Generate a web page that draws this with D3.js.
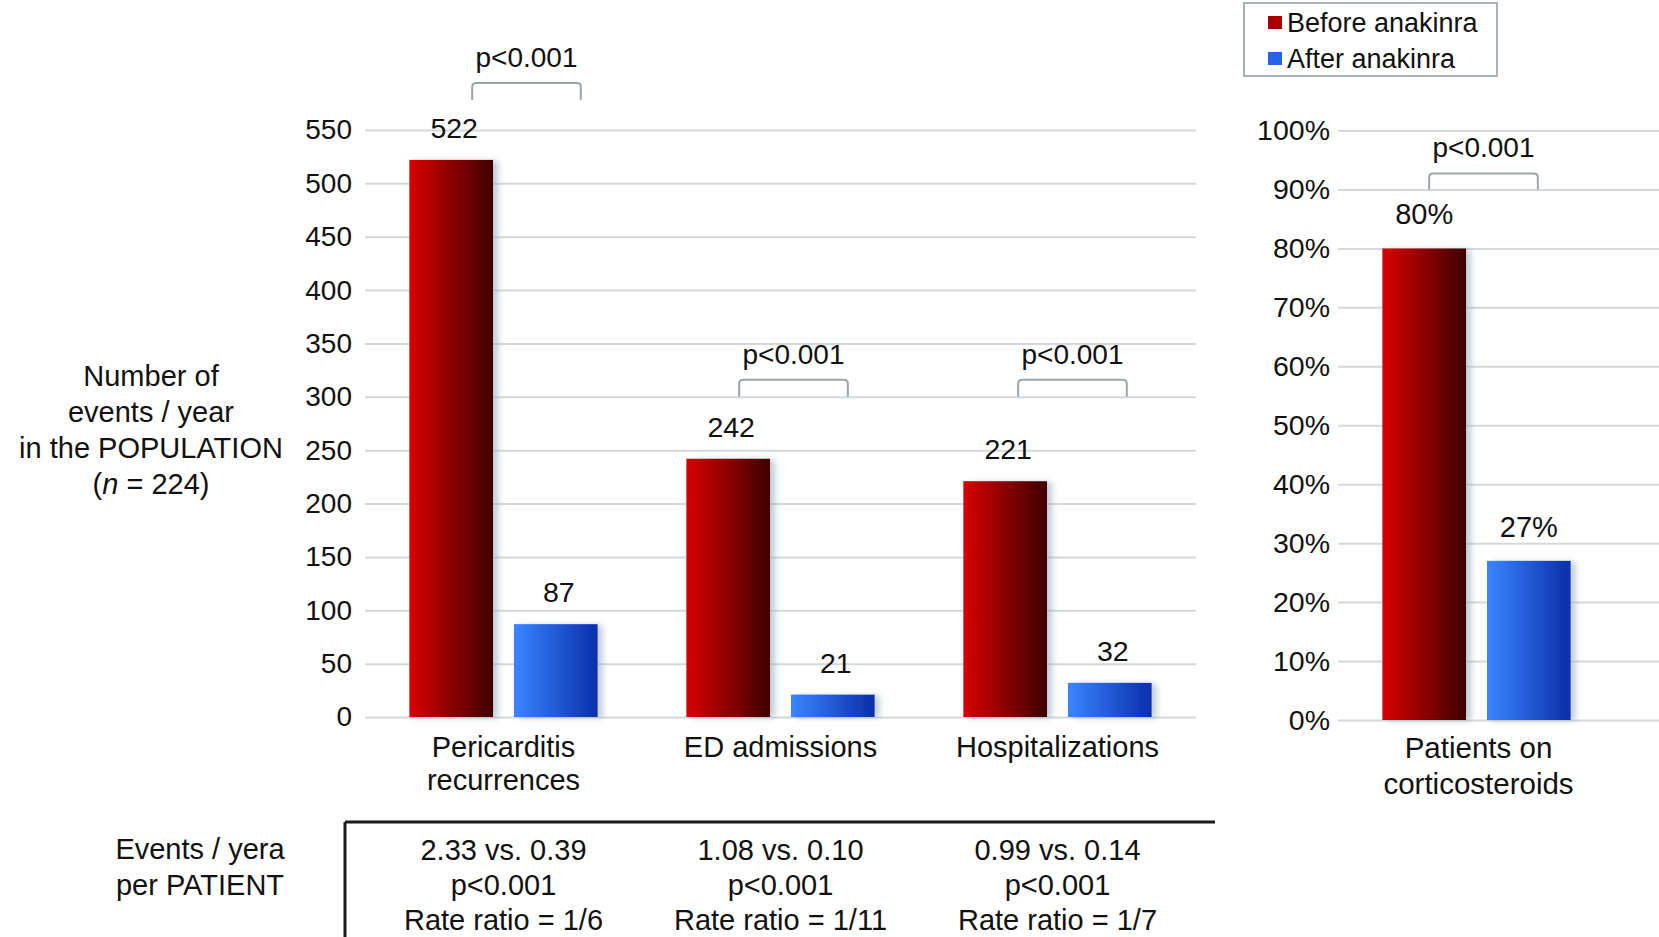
<!DOCTYPE html>
<html>
<head>
<meta charset="utf-8">
<script src="https://cdn.jsdelivr.net/npm/d3@7"></script>
<style>
  html, body { margin: 0; padding: 0; background: #fff; }
  svg { display: block; font-family: "Liberation Sans", Arial, Helvetica, sans-serif; }
</style>
</head>
<body>
<svg id="chart" width="1659" height="937"></svg>
<script>
// ---------- data ----------
const categories = ["Pericarditis recurrences", "ED admissions", "Hospitalizations"];
const categoryLines = [["Pericarditis", "recurrences"], ["ED admissions"], ["Hospitalizations"]];
const seriesNames = ["Before anakinra", "After anakinra"];
const beforeValues = [522, 242, 221];
const afterValues = [87, 21, 32];
const leftTicks = [0, 50, 100, 150, 200, 250, 300, 350, 400, 450, 500, 550];
const pLabels = ["p<0.001", "p<0.001", "p<0.001"];
const bracketLevels = [578, 300, 300];

const rightCategory = ["Patients on corticosteroids"];
const rightCategoryLines = ["Patients on", "corticosteroids"];
const rightBefore = [0.80];
const rightAfter = [0.27];
const rightTicks = [0, 0.1, 0.2, 0.3, 0.4, 0.5, 0.6, 0.7, 0.8, 0.9, 1.0];
const rightP = "p<0.001";
const rightBracketLevel = 0.9;

const tableRowLabel = ["Events / yera", "per PATIENT"];
const tableRates = ["2.33 vs. 0.39", "1.08 vs. 0.10", "0.99 vs. 0.14"];
const tableP = ["p<0.001", "p<0.001", "p<0.001"];
const tableRatio = ["Rate ratio = 1/6", "Rate ratio = 1/11", "Rate ratio = 1/7"];

// ---------- layout ----------
const svg = d3.select("#chart");
const W = 1659;
const bracketShift = [23, 13, 15];
const rightBracketShift = 7;
const FONT = "Liberation Sans, Arial, sans-serif";

const defs = svg.append("defs");
function grad(id, c0, c1) {
  const g = defs.append("linearGradient").attr("id", id).attr("x1", "0%").attr("x2", "100%").attr("y1", "0").attr("y2", "0");
  g.append("stop").attr("offset", "0%").attr("stop-color", c0);
  g.append("stop").attr("offset", "100%").attr("stop-color", c1);
}
grad("gRed", "#d80404", "#3e0000");
grad("gBlue", "#3a86ff", "#0a2eaa");
const f = defs.append("filter").attr("id", "shadow").attr("x", "-20%").attr("y", "-10%").attr("width", "150%").attr("height", "130%");
f.append("feDropShadow").attr("dx", 5).attr("dy", 1).attr("stdDeviation", 3)
  .attr("flood-color", "#8ea4b6").attr("flood-opacity", 0.55);

const fills = { "Before anakinra": "url(#gRed)", "After anakinra": "url(#gBlue)" };

function bracket(g, xl, xr, yTop, yBot, label) {
  const r = 4;
  g.append("path")
    .attr("d", `M${xl},${yBot} L${xl},${yTop + r} Q${xl},${yTop} ${xl + r},${yTop} L${xr - r},${yTop} Q${xr},${yTop} ${xr},${yTop + r} L${xr},${yBot}`)
    .attr("fill", "none").attr("stroke", "#9ba5ab").attr("stroke-width", 2);
  g.append("text").attr("x", (xl + xr) / 2).attr("y", yTop - 16)
    .attr("text-anchor", "middle").attr("font-size", 28).attr("fill", "#111").text(label);
}

// ---------- left chart ----------
const yL = d3.scaleLinear().domain([0, 550]).range([717, 130]);
const xL = d3.scaleBand().domain(categories).range([365, 1196]).paddingInner(0.32).paddingOuter(0.16);
const xInner = d3.scaleBand().domain(seriesNames).range([0, xL.bandwidth()]).paddingInner(0.2).paddingOuter(0);

const gAxisL = svg.append("g").attr("transform", "translate(365,0)")
  .call(d3.axisLeft(yL).tickValues(leftTicks).tickSizeInner(-(1196 - 365)).tickSizeOuter(0).tickPadding(13));
gAxisL.select(".domain").remove();
gAxisL.selectAll(".tick line").attr("stroke", "#d3d8db").attr("stroke-width", 2);
gAxisL.selectAll(".tick text").attr("font-size", 28).attr("fill", "#111").attr("font-family", FONT);

const leftData = categories.map((c, i) => ({ cat: c, vals: [
  { s: seriesNames[0], v: beforeValues[i] }, { s: seriesNames[1], v: afterValues[i] }] }));

const groups = svg.selectAll("g.grp").data(leftData).join("g").attr("class", "grp")
  .attr("transform", d => `translate(${xL(d.cat)},0)`);
groups.selectAll("rect").data(d => d.vals).join("rect")
  .attr("x", d => xInner(d.s)).attr("width", xInner.bandwidth())
  .attr("y", d => yL(d.v)).attr("height", d => yL(0) - yL(d.v))
  .attr("fill", d => fills[d.s]).attr("filter", "url(#shadow)");
groups.selectAll("text.val").data(d => d.vals).join("text").attr("class", "val")
  .attr("x", d => xInner(d.s) + xInner.bandwidth() / 2 + 3).attr("y", d => yL(d.v) - 22)
  .attr("text-anchor", "middle").attr("font-size", 28.5).attr("fill", "#111").text(d => d.v);

// category labels
categories.forEach((c, i) => {
  const cx = xL(c) + xL.bandwidth() / 2;
  const t = svg.append("text").attr("x", cx).attr("y", 757)
    .attr("text-anchor", "middle").attr("font-size", 29).attr("fill", "#111");
  categoryLines[i].forEach((ln, j) => t.append("tspan").attr("x", cx).attr("dy", j === 0 ? 0 : 33).text(ln));
});

// brackets
categories.forEach((c, i) => {
  const cx = xL(c) + xL.bandwidth() / 2 + bracketShift[i];
  const half = xInner.step() / 2 + 2;
  const yb = yL(bracketLevels[i]);
  bracket(svg, cx - half, cx + half, yb - 17, yb, pLabels[i]);
});

// axis title
const title = svg.append("text").attr("text-anchor", "middle").attr("font-size", 29).attr("fill", "#111");
const tl = ["Number of", "events / year", "in the POPULATION"];
tl.forEach((ln, j) => title.append("tspan").attr("x", 151).attr("y", 386 + j * 36).text(ln));
const tn = title.append("tspan").attr("x", 151).attr("y", 494);
tn.append("tspan").text("(");
tn.append("tspan").attr("font-style", "italic").text("n");
tn.append("tspan").text(" = 224)");

// ---------- right chart ----------
const yR = d3.scaleLinear().domain([0, 1]).range([720, 130.5]);
const xR = d3.scaleBand().domain(rightCategory).range([1338, 1615]).paddingInner(0.32).paddingOuter(0.16);
const xInnerR = d3.scaleBand().domain(seriesNames).range([0, xR.bandwidth()]).paddingInner(0.2).paddingOuter(0);

const gAxisR = svg.append("g").attr("transform", "translate(1338,0)")
  .call(d3.axisLeft(yR).tickValues(rightTicks).tickFormat(d3.format(".0%")).tickSizeInner(-(W - 1338)).tickSizeOuter(0).tickPadding(8));
gAxisR.select(".domain").remove();
gAxisR.selectAll(".tick line").attr("stroke", "#d3d8db").attr("stroke-width", 2);
gAxisR.selectAll(".tick text").attr("font-size", 28.5).attr("fill", "#111").attr("font-family", FONT);

const rightData = [{ s: seriesNames[0], v: rightBefore[0] }, { s: seriesNames[1], v: rightAfter[0] }];
const gR = svg.append("g").attr("transform", `translate(${xR(rightCategory[0])},0)`);
gR.selectAll("rect").data(rightData).join("rect")
  .attr("x", d => xInnerR(d.s)).attr("width", xInnerR.bandwidth())
  .attr("y", d => yR(d.v)).attr("height", d => yR(0) - yR(d.v))
  .attr("fill", d => fills[d.s]).attr("filter", "url(#shadow)");
gR.selectAll("text.val").data(rightData).join("text").attr("class", "val")
  .attr("x", d => xInnerR(d.s) + xInnerR.bandwidth() / 2).attr("y", d => yR(d.v) - 24)
  .attr("text-anchor", "middle").attr("font-size", 29).attr("fill", "#111").text(d => d3.format(".0%")(d.v));

const rcx = xR(rightCategory[0]) + xR.bandwidth() / 2;
const rt = svg.append("text").attr("text-anchor", "middle").attr("font-size", 29.5).attr("fill", "#111");
rightCategoryLines.forEach((ln, j) => rt.append("tspan").attr("x", rcx + 2).attr("y", 758 + j * 36).text(ln));

{
  const cx = rcx + rightBracketShift;
  const half = xInnerR.step() / 2 + 2;
  const yb = yR(rightBracketLevel);
  bracket(svg, cx - half, cx + half, yb - 16, yb, rightP);
}

// ---------- legend ----------
const lg = svg.append("g");
lg.append("rect").attr("x", 1244).attr("y", 3).attr("width", 253).attr("height", 73)
  .attr("fill", "#fff").attr("stroke", "#a9b2b8").attr("stroke-width", 2);
const legendFill = ["#a80000", "#2563e8"];
seriesNames.forEach((s, i) => {
  lg.append("rect").attr("x", 1268).attr("y", 16 + i * 36).attr("width", 14).attr("height", 13).attr("fill", legendFill[i]);
  lg.append("text").attr("x", 1287).attr("y", 32 + i * 36).attr("font-size", 27).attr("fill", "#111").text(s);
});

// ---------- bottom table ----------
svg.append("line").attr("x1", 345).attr("x2", 1215).attr("y1", 822).attr("y2", 822).attr("stroke", "#1a1a1a").attr("stroke-width", 3);
svg.append("line").attr("x1", 345).attr("x2", 345).attr("y1", 822).attr("y2", 937).attr("stroke", "#1a1a1a").attr("stroke-width", 3);
const rl = svg.append("text").attr("text-anchor", "middle").attr("font-size", 29).attr("fill", "#111");
tableRowLabel.forEach((ln, j) => rl.append("tspan").attr("x", 200).attr("y", 859 + j * 36).text(ln));
categories.forEach((c, i) => {
  const cx = xL(c) + xL.bandwidth() / 2;
  const t = svg.append("text").attr("text-anchor", "middle").attr("font-size", 29).attr("fill", "#111");
  [tableRates[i], tableP[i], tableRatio[i]].forEach((ln, j) => t.append("tspan").attr("x", cx).attr("y", 860 + j * 35).text(ln));
});
</script>
</body>
</html>
